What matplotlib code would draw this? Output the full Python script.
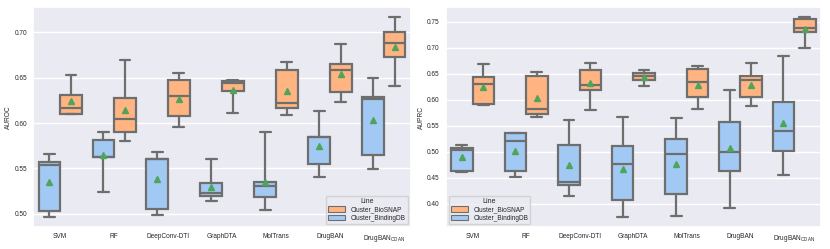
import numpy as np
import matplotlib
matplotlib.use("Agg")
import matplotlib.pyplot as plt
import seaborn as sns
from matplotlib.patches import Patch

sns.set_theme(style="darkgrid")
plt.rcParams["font.family"] = ["Liberation Sans", "DejaVu Sans"]
plt.rcParams["mathtext.fontset"] = "custom"
plt.rcParams["mathtext.rm"] = "Liberation Sans"

models = ["SVM", "RF", "DeepConv-DTI", "GraphDTA", "MolTrans", "DrugBAN",
          "DrugBAN$_{\\mathrm{CDAN}}$"]
series = ["Cluster_BioSNAP", "Cluster_BindingDB"]
colors = {"Cluster_BioSNAP": "#ffb482", "Cluster_BindingDB": "#a1c9f4"}

# box stats per model: whislo, q1, med, q3, whishi, mean
auroc_bindingdb = {
    "whislo": [0.4964, 0.5241, 0.4986, 0.5139, 0.5044, 0.5410, 0.5494],
    "q1":     [0.5030, 0.5622, 0.5055, 0.5194, 0.5187, 0.5549, 0.5647],
    "med":    [0.5538, 0.5625, 0.5600, 0.5230, 0.5311, 0.5845, 0.6265],
    "q3":     [0.5574, 0.5815, 0.5603, 0.5337, 0.5351, 0.5852, 0.6283],
    "whishi": [0.5658, 0.5907, 0.5680, 0.5607, 0.5907, 0.6137, 0.6495],
    "mean":   [0.5355, 0.5647, 0.5388, 0.5296, 0.5355, 0.5753, 0.6035],
}
auroc_biosnap = {
    "whislo": [0.6097, 0.5808, 0.5962, 0.6108, 0.6086, 0.6236, 0.6404],
    "q1":     [0.6104, 0.5903, 0.6075, 0.6353, 0.6166, 0.6338, 0.6730],
    "med":    [0.6166, 0.6042, 0.6302, 0.6437, 0.6225, 0.6587, 0.6887],
    "q3":     [0.6313, 0.6280, 0.6474, 0.6459, 0.6587, 0.6656, 0.7004],
    "whishi": [0.6532, 0.6697, 0.6554, 0.6477, 0.6678, 0.6876, 0.7165],
    "mean":   [0.6247, 0.6145, 0.6269, 0.6364, 0.6349, 0.6540, 0.6835],
}
auprc_bindingdb = {
    "whislo": [0.4611, 0.4515, 0.4147, 0.3745, 0.3764, 0.3911, 0.4547],
    "q1":     [0.4636, 0.4636, 0.4356, 0.4076, 0.4191, 0.4636, 0.5018],
    "med":    [0.5031, 0.5203, 0.4420, 0.4757, 0.4961, 0.4993, 0.5400],
    "q3":     [0.5082, 0.5355, 0.5133, 0.5107, 0.5241, 0.5565, 0.5954],
    "whishi": [0.5133, 0.5368, 0.5610, 0.5661, 0.5648, 0.6189, 0.6851],
    "mean":   [0.4897, 0.5012, 0.4738, 0.4662, 0.4757, 0.5070, 0.5553],
}
auprc_biosnap = {
    "whislo": [0.5903, 0.5668, 0.5801, 0.6259, 0.5814, 0.5878, 0.7004],
    "q1":     [0.5928, 0.5725, 0.6183, 0.6374, 0.6062, 0.6055, 0.7296],
    "med":    [0.6310, 0.5814, 0.6285, 0.6463, 0.6335, 0.6374, 0.7373],
    "q3":     [0.6431, 0.6456, 0.6571, 0.6520, 0.6583, 0.6456, 0.7545],
    "whishi": [0.6685, 0.6526, 0.6717, 0.6571, 0.6653, 0.6704, 0.7583],
    "mean":   [0.6253, 0.6036, 0.6323, 0.6437, 0.6285, 0.6291, 0.7366],
}

LC = "#6e6e6e"


def draw(ax, binding, biosnap, ylabel, legloc):
    for off, name, d in [(-0.2, "Cluster_BindingDB", binding),
                         (0.2, "Cluster_BioSNAP", biosnap)]:
        stats = [{k: d[k][i] for k in d} | {"fliers": []}
                 for i in range(len(models))]
        ax.bxp(stats, positions=np.arange(len(models)) + off, widths=0.4,
               patch_artist=True, showmeans=True, manage_ticks=False,
               boxprops=dict(facecolor=colors[name], edgecolor=LC, lw=1.6),
               whiskerprops=dict(color=LC, lw=1.6),
               capprops=dict(color=LC, lw=1.6),
               medianprops=dict(color=LC, lw=1.6),
               meanprops=dict(marker="^", markerfacecolor="#4ea55a",
                              markeredgecolor="#4ea55a", markersize=4.8))
    lo = min(min(binding["whislo"]), min(biosnap["whislo"]))
    hi = max(max(binding["whishi"]), max(biosnap["whishi"]))
    pad = (hi - lo) * 0.05
    ax.set_ylim(lo - pad, hi + pad)
    ax.set_xlim(-0.5, len(models) - 0.5)
    ax.set_xticks(np.arange(len(models)))
    ax.set_xticklabels(models)
    ax.grid(False, axis="x")
    ax.grid(True, axis="y", lw=1)
    ax.set_ylabel(ylabel, fontsize=4.7, labelpad=1.8)
    ax.tick_params(axis="y", length=0, labelsize=4.7, pad=4.3, colors="#262626")
    ax.tick_params(axis="x", length=0, labelsize=4.7, pad=4.5, colors="#262626")
    handles = [Patch(facecolor=colors[s], edgecolor=LC, lw=0.8) for s in series]
    ax.legend(handles, series, title="Line", loc=legloc, fontsize=4.7,
              title_fontsize=5, handlelength=2.6, handleheight=0.9,
              borderpad=0.3, labelspacing=0.25, borderaxespad=0.5)


fig = plt.figure(figsize=(8.3, 2.49), dpi=100)
ax1 = fig.add_axes([0.040, 0.088, 0.455, 0.882])
ax2 = fig.add_axes([0.537, 0.088, 0.452, 0.882])
draw(ax1, auroc_bindingdb, auroc_biosnap, "AUROC", "lower right")
draw(ax2, auprc_bindingdb, auprc_biosnap, "AUPRC", "lower left")
fig.savefig("out.png", dpi=100)
